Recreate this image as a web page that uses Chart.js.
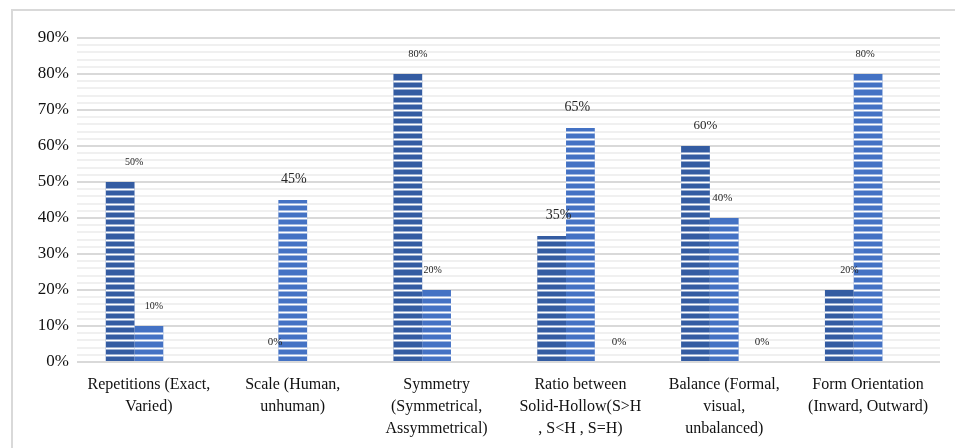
<!DOCTYPE html>
<html>
<head>
<meta charset="utf-8">
<script src="https://cdn.jsdelivr.net/npm/chart.js@4.4.1/dist/chart.umd.min.js"></script>
<style>
  html, body { margin: 0; padding: 0; background: #ffffff; }
  #wrap { position: relative; width: 955px; height: 448px; }
  #frame { position: absolute; left: 11px; top: 9px; width: 960px; height: 460px;
           border-left: 2px solid #d9d9d9; border-top: 2px solid #d9d9d9; box-sizing: border-box; }
  canvas { position: absolute; left: 0; top: 0; }
</style>
</head>
<body>
<div id="wrap">
  <div id="frame"></div>
  <canvas id="chart" width="955" height="448"></canvas>
</div>
<script>
// Design principles surveyed, with the share of each option (%)
const categories = [
  ["Repetitions (Exact,", "Varied)"],
  ["Scale (Human,", "unhuman)"],
  ["Symmetry", "(Symmetrical,", "Assymmetrical)"],
  ["Ratio between", "Solid-Hollow(S>H", ", S<H , S=H)"],
  ["Balance (Formal,", "visual,", "unbalanced)"],
  ["Form Orientation", "(Inward, Outward)"]
];
const firstOption  = [50, 0, 80, 35, 60, 20];
const secondOption = [10, 45, 20, 65, 40, 80];
const thirdOption  = [null, null, null, 0, 0, null];
const yTicks = [0, 10, 20, 30, 40, 50, 60, 70, 80, 90];

// Label typography per series/category (font px, horizontal nudge px)
const labelFont = [
  [10, 11, 10.5, 14, 13, 10],
  [10, 14, 10, 14, 11, 10.5],
  [11, 11, 11, 11, 11, 11]
];
const labelNudge = [
  [14, 11, 10, 7, 10, 10],
  [5, 1, -4, -3, -2, -3],
  [0, 0, 0, 10, 9, 0]
];

const SERIF = "'Liberation Serif', 'Times New Roman', serif";

// White banding across the bars every 2%
const bandPlugin = {
  id: 'bands',
  afterDatasetsDraw(chart) {
    const ctx = chart.ctx;
    const y = chart.scales.y;
    ctx.save();
    ctx.strokeStyle = '#ffffff';
    ctx.lineWidth = 2;
    chart.data.datasets.forEach((ds, di) => {
      const meta = chart.getDatasetMeta(di);
      meta.data.forEach((bar, i) => {
        const v = ds.data[i];
        if (v == null || v <= 0) return;
        for (let s = 2; s < v; s += 2) {
          const py = Math.round(y.getPixelForValue(s)) + 0.5;
          ctx.beginPath();
          ctx.moveTo(bar.x - bar.width / 2, py);
          ctx.lineTo(bar.x + bar.width / 2, py);
          ctx.stroke();
        }
      });
    });
    ctx.restore();
  }
};

// Value labels above each bar
const valuePlugin = {
  id: 'values',
  afterDatasetsDraw(chart) {
    const ctx = chart.ctx;
    ctx.save();
    ctx.fillStyle = '#262626';
    ctx.textAlign = 'center';
    ctx.textBaseline = 'alphabetic';
    chart.data.datasets.forEach((ds, di) => {
      const meta = chart.getDatasetMeta(di);
      meta.data.forEach((bar, i) => {
        const v = ds.data[i];
        if (v == null) return;
        ctx.font = labelFont[di][i] + 'px ' + SERIF;
        ctx.fillText(v + '%', bar.x + labelNudge[di][i], bar.y - 17);
      });
    });
    ctx.restore();
  }
};

new Chart(document.getElementById('chart'), {
  type: 'bar',
  data: {
    labels: categories,
    datasets: [
      { label: 'Option 1', data: firstOption, backgroundColor: '#345ca2' },
      { label: 'Option 2', data: secondOption, backgroundColor: '#4472c4' },
      { label: 'Option 3', data: thirdOption, backgroundColor: '#8fa9dc' }
    ]
  },
  options: {
    responsive: false,
    animation: false,
    layout: { padding: { left: 0, right: 15, top: 38, bottom: 0 } },
    datasets: { bar: { categoryPercentage: 0.6, barPercentage: 1.0 } },
    plugins: { legend: { display: false }, tooltip: { enabled: false } },
    scales: {
      x: {
        grid: { display: false },
        border: { display: false },
        ticks: {
          color: '#111111',
          font: { family: SERIF, size: 16, lineHeight: 1.37 },
          maxRotation: 0,
          autoSkip: false,
          padding: 4
        },
        afterFit(scale) { scale.height = 86; }
      },
      y: {
        min: 0, max: 90,
        afterBuildTicks(scale) {
          const t = [];
          for (let v = 0; v <= 90; v += 2) t.push({ value: v });
          scale.ticks = t;
        },
        border: { display: false },
        grid: {
          color: (c) => (c.tick && c.tick.value % 10 === 0) ? '#d9d9d9' : '#f0f0f0',
          lineWidth: 2,
          drawTicks: false
        },
        ticks: {
          color: '#111111',
          font: { family: SERIF, size: 17 },
          padding: 8,
          autoSkip: false,
          callback: (v) => yTicks.includes(v) ? v + '%' : ''
        },
        afterFit(scale) { scale.width = 77; }
      }
    }
  },
  plugins: [bandPlugin, valuePlugin]
});
</script>
</body>
</html>
